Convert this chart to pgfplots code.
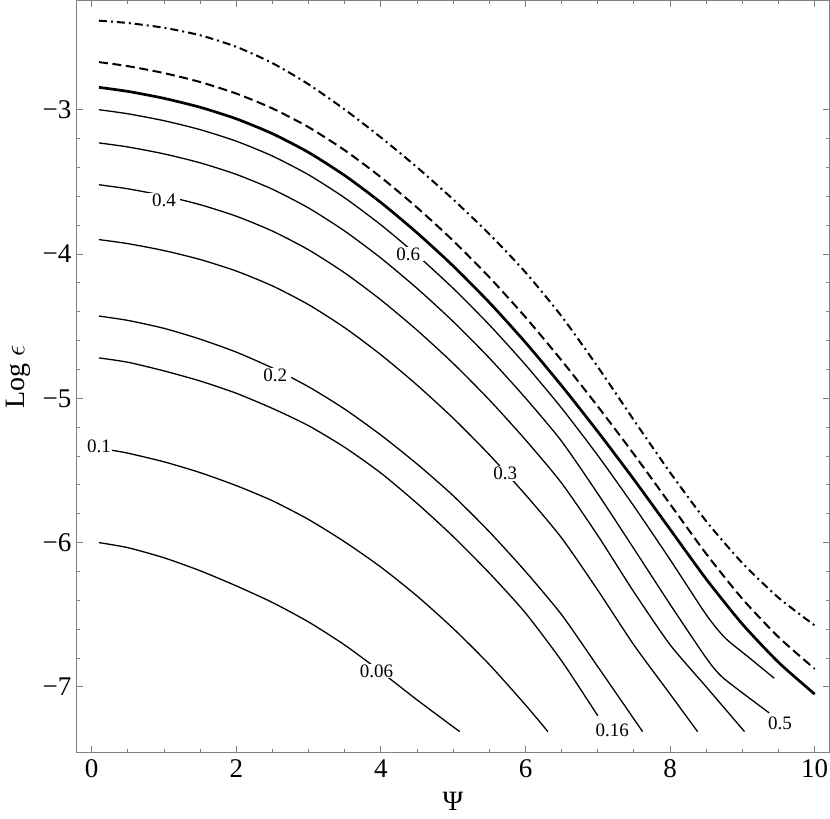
\documentclass[border=0pt]{standalone}
\usepackage{fontspec}
\setmainfont{Liberation Serif}
\usepackage{pgfplots}
\pgfplotsset{compat=1.18}
\definecolor{axgray}{gray}{0.5}

\begin{document}
\begin{tikzpicture}
\begin{axis}[
    scale only axis,
    width=376.3pt, height=376.1pt,
    xmin=-0.2075, xmax=10.202,
    ymin=-7.456, ymax=-2.243,
    xtick={0,2,...,10}, minor x tick num=3,
    ytick={-7,-6,-5,-4,-3}, minor y tick num=4,
    yticklabels={−7,−6,−5,−4,−3},
    tick align=inside,
    major tick length=3.2pt, minor tick length=1.8pt,
    axis line style={axgray, line width=0.6pt},
    every tick/.style={axgray, line width=0.5pt},
    /pgf/number format/assume math mode=true,
    tick label style={font=\fontsize{13.5}{15}\selectfont},
    yticklabel style={inner xsep=2.5pt},
    label style={font=\fontsize{14}{16}\selectfont},
    xlabel={Ψ},
    ylabel={Log $\epsilon$},
    clip=false,
    cont/.style={black, line width=0.65pt, mark=none, smooth, tension=0.4},
]
% dash-dotted
\addplot[cont, line width=1pt, dash pattern=on 4pt off 2pt on 1pt off 2pt] coordinates {
(0.1,-2.383) (0.5,-2.399) (1,-2.432) (1.5,-2.484) (2,-2.564) (2.5,-2.677) (3,-2.824) (3.5,-2.999) (4,-3.192) (4.5,-3.399) (5,-3.622) (5.5,-3.862) (6,-4.127) (6.5,-4.432) (7,-4.782) (7.5,-5.152) (8,-5.514) (8.5,-5.852) (9,-6.142) (9.5,-6.382) (10,-6.574)};
% dashed
\addplot[cont, line width=1pt, dash pattern=on 4.5pt off 2.3pt] coordinates {
(0.1,-2.670) (0.5,-2.698) (1,-2.746) (1.5,-2.808) (2,-2.888) (2.5,-2.991) (3,-3.121) (3.5,-3.281) (4,-3.468) (4.5,-3.678) (5,-3.908) (5.5,-4.161) (6,-4.438) (6.5,-4.738) (7,-5.056) (7.5,-5.388) (8,-5.733) (8.5,-6.078) (9,-6.390) (9.5,-6.655) (10,-6.875)};
% thick
\addplot[cont, line width=1.35pt] coordinates {
(0.1,-2.845) (0.5,-2.873) (1,-2.921) (1.5,-2.983) (2,-3.063) (2.5,-3.166) (3,-3.296) (3.5,-3.456) (4,-3.643) (4.5,-3.853) (5,-4.083) (5.5,-4.336) (6,-4.613) (6.5,-4.913) (7,-5.231) (7.5,-5.563) (8,-5.908) (8.5,-6.253) (9,-6.565) (9.5,-6.830) (10,-7.050)};
% 0.6
\addplot[cont] coordinates {
(0.1,-3.000) (0.5,-3.028) (1,-3.076) (1.5,-3.138) (2,-3.218) (2.5,-3.321) (3,-3.451) (3.5,-3.611) (4,-3.798) (4.5,-4.008) (5,-4.238) (5.5,-4.491) (6,-4.768) (6.5,-5.068) (7,-5.396) (7.5,-5.748) (8,-6.118) (8.5,-6.500) (8.76,-6.660) (9.1,-6.800) (9.44,-6.940)};
% 0.5
\addplot[cont] coordinates {
(0.1,-3.230) (0.5,-3.258) (1,-3.306) (1.5,-3.368) (2,-3.448) (2.5,-3.551) (3,-3.681) (3.5,-3.841) (4,-4.028) (4.5,-4.238) (5,-4.468) (5.5,-4.721) (6,-4.998) (6.5,-5.298) (7,-5.661) (7.5,-6.043) (8,-6.428) (8.5,-6.800) (8.74,-6.940) (9.37,-7.180)};
% 0.4
\addplot[cont] coordinates {
(0.1,-3.520) (0.5,-3.548) (1,-3.596) (1.5,-3.658) (2,-3.738) (2.5,-3.841) (3,-3.971) (3.5,-4.131) (4,-4.318) (4.5,-4.528) (5,-4.758) (5.5,-5.011) (6,-5.288) (6.5,-5.588) (7,-5.951) (7.5,-6.343) (8,-6.708) (8.5,-7.000) (9.03,-7.310)};
% 0.3
\addplot[cont] coordinates {
(0.1,-3.900) (0.5,-3.928) (1,-3.976) (1.5,-4.038) (2,-4.118) (2.5,-4.221) (3,-4.351) (3.5,-4.511) (4,-4.698) (4.5,-4.908) (5,-5.138) (5.5,-5.391) (6,-5.668) (6.5,-5.968) (7,-6.330) (7.5,-6.710) (8,-7.050) (8.38,-7.310)};
% 0.2
\addplot[cont] coordinates {
(0.1,-4.430) (0.5,-4.460) (1,-4.515) (1.5,-4.590) (2,-4.680) (2.5,-4.790) (3,-4.920) (3.5,-5.075) (4,-5.255) (4.5,-5.455) (5,-5.675) (5.5,-5.925) (6,-6.200) (6.5,-6.500) (7,-6.860) (7.62,-7.310)};
% 0.16
\addplot[cont] coordinates {
(0.1,-4.720) (0.5,-4.750) (1,-4.810) (1.5,-4.880) (2,-4.965) (2.5,-5.070) (3,-5.190) (3.5,-5.340) (4,-5.518) (4.5,-5.728) (5,-5.958) (5.5,-6.211) (6,-6.488) (6.5,-6.820) (7.0,-7.200)};
% 0.1
\addplot[cont] coordinates {
(0.28,-5.360) (0.5,-5.380) (1,-5.440) (1.5,-5.515) (2,-5.605) (2.5,-5.710) (3,-5.840) (3.5,-5.995) (4,-6.170) (4.5,-6.370) (5,-6.595) (5.5,-6.845) (6,-7.125) (6.31,-7.310)};
% 0.06
\addplot[cont] coordinates {
(0.1,-6.000) (0.5,-6.035) (1,-6.105) (1.5,-6.195) (2,-6.300) (2.5,-6.415) (3,-6.550) (3.5,-6.710) (4,-6.895) (4.5,-7.090) (5.09,-7.310)};

\begin{scope}[every node/.style={fill=white, inner xsep=2pt, inner ysep=0.5pt, font=\fontsize{9.5}{10}\selectfont}]
\node at (axis cs:4.38,-4.00) {0.6};
\node at (axis cs:1.00,-3.63) {0.4};
\node at (axis cs:5.72,-5.52) {0.3};
\node at (axis cs:2.54,-4.84) {0.2};
\node at (axis cs:3.94,-6.89) {0.06};
\node[fill=none] at (axis cs:0.10,-5.335) {0.1};
\node[fill=none] at (axis cs:7.20,-7.30) {0.16};
\node[fill=none] at (axis cs:9.52,-7.25) {0.5};
\end{scope}
\end{axis}
\pgfresetboundingbox
\path[use as bounding box] ([shift={(-38.35pt,-33.15pt)}]current axis.south west) rectangle ([shift={(376.65pt,376.35pt)}]current axis.south west);
\end{tikzpicture}
\end{document}
